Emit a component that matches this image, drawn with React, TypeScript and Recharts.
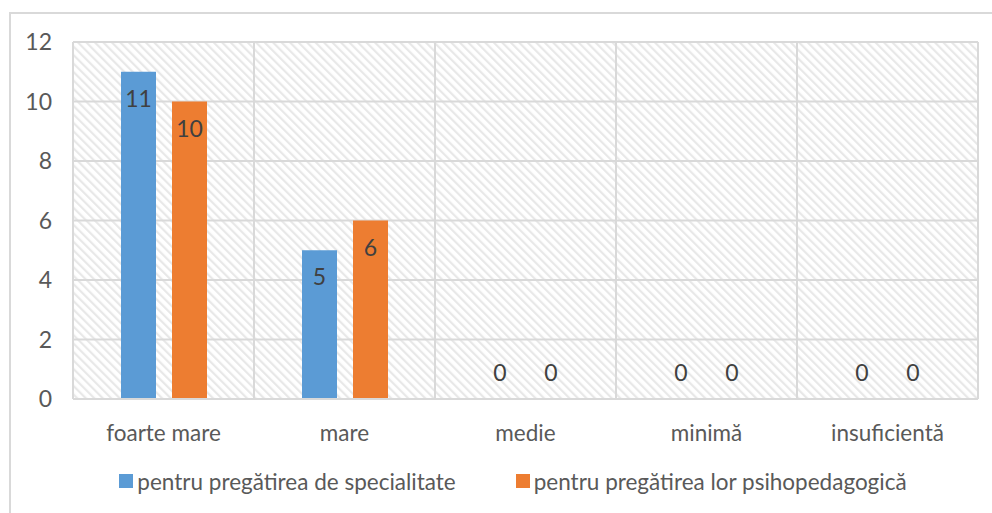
import { ComposedChart, Bar, Line, XAxis, YAxis, CartesianGrid, Legend, LabelList } from "recharts";

const categories = ["foarte mare", "mare", "medie", "minimă", "insuficientă"];
const specialitate = [11, 5, 0, 0, 0];
const psihopedagogica = [10, 6, 0, 0, 0];
const yTicks = [0, 2, 4, 6, 8, 10, 12];

const seriesNames = {
  spec: "pentru pregătirea de specialitate",
  psih: "pentru pregătirea lor psihopedagogică",
};

const data = categories.map((c, i) => ({
  name: c,
  spec: specialitate[i],
  psih: psihopedagogica[i],
}));

const FONT = "Lato, 'Open Sans', sans-serif";
const BAR_SIZE = 35;
const BAR_GAP = 16;
// centre of each bar relative to the category centre
const barShift = (BAR_SIZE + BAR_GAP) / 2;

// labels for bars with a height: inside, near the top
const renderLabel = (props: any) => {
  const { x, y, width, value } = props;
  if (!value) return null;
  return (
    <text x={x + width / 2} y={y + 35} textAnchor="middle" fill="#404040" fontSize={23} fontFamily={FONT}>
      {value}
    </text>
  );
};

// zero bars have no rectangle, so their "0" is drawn from an invisible line
const zeroLabel = (dx: number) => (props: any) => {
  const { x, y, value } = props;
  if (value !== 0) return null;
  return (
    <text x={x + dx} y={y - 18} textAnchor="middle" fill="#404040" fontSize={23} fontFamily={FONT}>
      {value}
    </text>
  );
};

const renderLegend = () => (
  <div
    style={{
      display: "flex",
      justifyContent: "center",
      alignItems: "center",
      height: 30,
      paddingLeft: 34,
      fontFamily: FONT,
      fontSize: 22.5,
      color: "#595959",
    }}
  >
    {[
      { color: "#5B9BD5", label: seriesNames.spec },
      { color: "#ED7D31", label: seriesNames.psih },
    ].map((it, i) => (
      <div key={i} style={{ display: "flex", alignItems: "center", marginLeft: i ? 60 : 0 }}>
        <span style={{ width: 14, height: 14, background: it.color, marginRight: 4, display: "inline-block" }} />
        <span>{it.label}</span>
      </div>
    ))}
  </div>
);

export default function App() {
  return (
    <div style={{ position: "absolute", left: 0, top: 0, width: 992, height: 513, overflow: "hidden", background: "#fff" }}>
      <div
        style={{
          position: "absolute",
          left: 9,
          top: 12,
          width: 1100,
          height: 600,
          border: "2px solid #d9d9d9",
        }}
      />
      <div style={{ position: "absolute", left: 0, top: 0 }}>
        <ComposedChart
          width={992}
          height={513}
          data={data}
          margin={{ top: 42, right: 14, left: 0, bottom: 17 }}
          barSize={BAR_SIZE}
          barGap={BAR_GAP}
        >
          <defs>
            <pattern id="hatch" width="6" height="6" patternUnits="userSpaceOnUse" patternTransform="rotate(-45)">
              <rect width="6" height="6" fill="#ffffff" />
              <rect width="2.2" height="6" fill="#e8e8e8" />
            </pattern>
          </defs>
          <CartesianGrid
            stroke="#d9d9d9"
            strokeWidth={2}
            fill="url(#hatch)"
            fillOpacity={1}
            verticalCoordinatesGenerator={({ offset }: any) =>
              [...categories.map((_, i) => offset.left + (i * offset.width) / categories.length), offset.left + offset.width]
            }
          />
          <XAxis
            dataKey="name"
            height={67}
            tickLine={false}
            axisLine={{ stroke: "#d9d9d9", strokeWidth: 2 }}
            tickSize={0}
            tickMargin={26}
            tick={{ fill: "#595959", fontSize: 22.5, fontFamily: FONT }}
            interval={0}
          />
          <YAxis
            domain={[0, 12]}
            ticks={yTicks}
            width={73}
            tickLine={false}
            axisLine={false}
            tickSize={0}
            tickMargin={21}
            tick={{ fill: "#595959", fontSize: 23, fontFamily: FONT }}
          />
          <Legend verticalAlign="bottom" height={30} content={renderLegend} wrapperStyle={{ left: 0, width: 992 }} />
          <Bar dataKey="spec" name={seriesNames.spec} fill="#5B9BD5" isAnimationActive={false}>
            <LabelList dataKey="spec" content={renderLabel} />
          </Bar>
          <Bar dataKey="psih" name={seriesNames.psih} fill="#ED7D31" isAnimationActive={false}>
            <LabelList dataKey="psih" content={renderLabel} />
          </Bar>
          <Line
            dataKey="spec"
            stroke="none"
            dot={false}
            activeDot={false}
            legendType="none"
            isAnimationActive={false}
            label={zeroLabel(-barShift)}
          />
          <Line
            dataKey="psih"
            stroke="none"
            dot={false}
            activeDot={false}
            legendType="none"
            isAnimationActive={false}
            label={zeroLabel(barShift)}
          />
        </ComposedChart>
      </div>
    </div>
  );
}
